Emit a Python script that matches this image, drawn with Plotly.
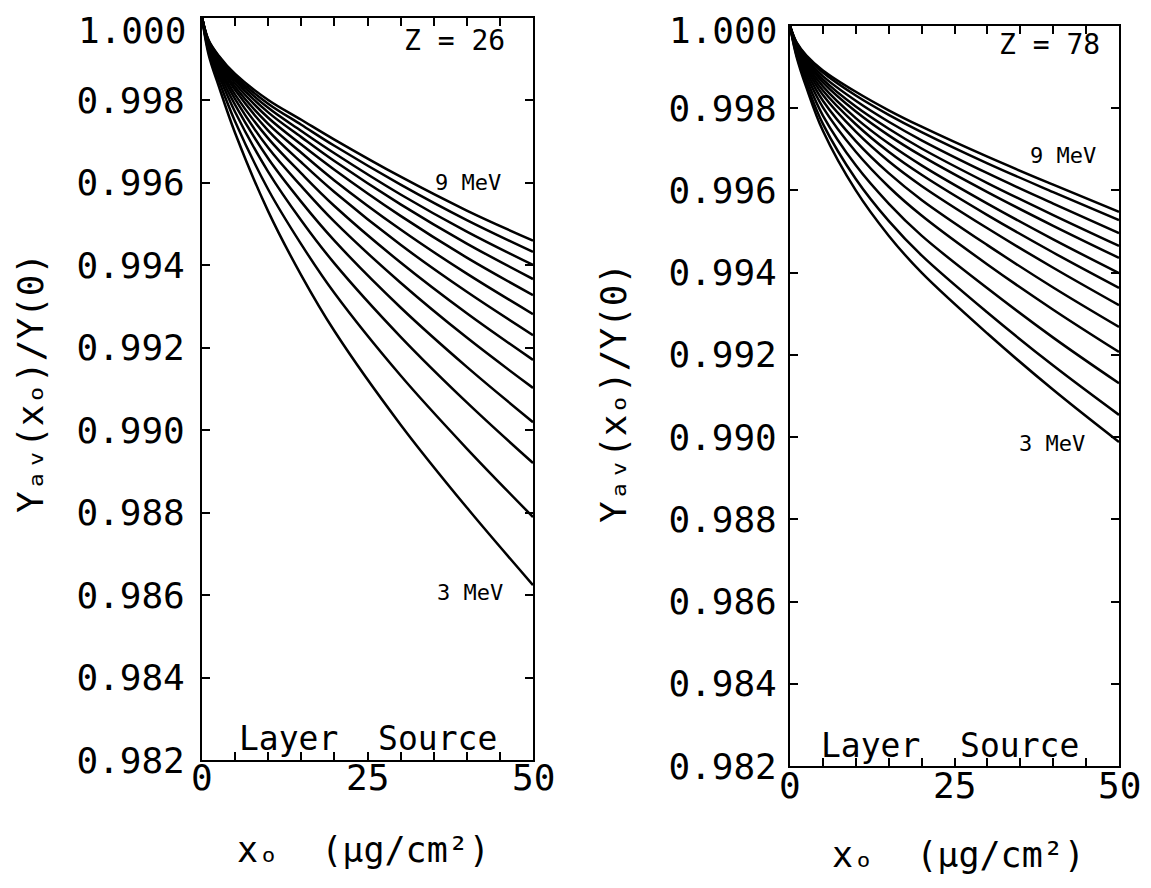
import plotly.graph_objects as go

# x positions (ug/cm^2) at which curves were read
x_vals = [0, 1, 2.5, 5, 10, 15, 20, 30, 40, 50]
energies = ["9", "8.5", "8", "7.5", "7", "6.5", "6", "5.5", "5", "4.5", "4", "3.5", "3"]

# Z = 26, values at each x (rows: energies 9 ... 3 MeV)
y_z26 = [
    [1.0, .99945, .99908, .99863, .99800, .99752, .99704, .99614, .99532, .99459],
    [1.0, .99944, .99906, .99858, .99791, .99740, .99689, .99595, .99509, .99432],
    [1.0, .99942, .99903, .99853, .99781, .99725, .99671, .99571, .99481, .99400],
    [1.0, .99941, .99900, .99847, .99770, .99710, .99652, .99547, .99452, .99366],
    [1.0, .99939, .99896, .99840, .99757, .99692, .99631, .99519, .99418, .99327],
    [1.0, .99937, .99892, .99832, .99742, .99672, .99605, .99486, .99379, .99281],
    [1.0, .99935, .99888, .99824, .99726, .99649, .99577, .99449, .99335, .99230],
    [1.0, .99933, .99883, .99813, .99707, .99622, .99543, .99406, .99283, .99170],
    [1.0, .99930, .99877, .99802, .99684, .99591, .99505, .99357, .99224, .99102],
    [1.0, .99927, .99869, .99788, .99658, .99553, .99459, .99297, .99153, .99019],
    [1.0, .99922, .99861, .99771, .99626, .99508, .99404, .99226, .99067, .98920],
    [1.0, .99917, .99849, .99748, .99583, .99450, .99332, .99132, .98955, .98789],
    [1.0, .99910, .99835, .99720, .99530, .99375, .99240, .99013, .98812, .98624],
]

# Z = 78
y_z78 = [
    [1.0, .99960, .99928, .99892, .99840, .99795, .99755, .99682, .99614, .99548],
    [1.0, .99959, .99925, .99887, .99831, .99784, .99742, .99666, .99596, .99528],
    [1.0, .99957, .99921, .99878, .99818, .99767, .99722, .99642, .99568, .99496],
    [1.0, .99955, .99916, .99870, .99804, .99750, .99702, .99618, .99540, .99465],
    [1.0, .99953, .99912, .99863, .99792, .99734, .99684, .99596, .99514, .99436],
    [1.0, .99951, .99907, .99853, .99776, .99714, .99661, .99568, .99481, .99399],
    [1.0, .99948, .99902, .99843, .99761, .99694, .99638, .99540, .99449, .99363],
    [1.0, .99946, .99896, .99832, .99743, .99671, .99611, .99508, .99412, .99321],
    [1.0, .99942, .99889, .99818, .99720, .99642, .99577, .99467, .99364, .99268],
    [1.0, .99939, .99880, .99802, .99694, .99609, .99539, .99420, .99310, .99207],
    [1.0, .99934, .99870, .99782, .99661, .99568, .99490, .99362, .99242, .99131],
    [1.0, .99929, .99859, .99762, .99628, .99526, .99442, .99303, .99174, .99054],
    [1.0, .99925, .99850, .99745, .99600, .99490, .99400, .99252, .99115, .98988],
]

y_ticks = [0.982, 0.984, 0.986, 0.988, 0.990, 0.992, 0.994, 0.996, 0.998, 1.000]
y_ticktext = ["0.982", "0.984", "0.986", "0.988", "0.990", "0.992", "0.994", "0.996", "0.998", "1.000"]
x_ticks = [0, 25, 50]
x_ticktext = ["0", "25", "50"]

FONT = "DejaVu Sans Mono"
W, H = 1151, 888
OFF = 8  # page body margin


def px(xp):
    return (xp - OFF) / W


def py(yp):
    return 1 - (yp - OFF) / H


fig = go.Figure()

for rows, xa, ya in [(y_z26, "x", "y"), (y_z78, "x2", "y2")]:
    for e, row in zip(energies, rows):
        fig.add_trace(go.Scatter(x=x_vals, y=row, mode="lines", xaxis=xa, yaxis=ya,
                                 line=dict(color="black", width=2.5, shape="spline", smoothing=1.0),
                                 name=e + " MeV", showlegend=False, hoverinfo="skip"))

# the top label (1.000) sits at the very top edge; it is drawn as an annotation below
shown_ticktext = y_ticktext[:-1] + [""]


def xaxis(domain, anchor):
    return dict(domain=domain, anchor=anchor, range=[0, 50], showline=True, linecolor="black",
                linewidth=2, mirror="allticks", ticks="inside", tickcolor="black", ticklen=8,
                tickwidth=1.5, tick0=0, dtick=5, showgrid=False, zeroline=False,
                showticklabels=False, automargin=False)


def yaxis(domain, anchor, standoff):
    return dict(domain=domain, anchor=anchor, range=[0.982, 1.000], showline=True, linecolor="black",
                linewidth=2, mirror="allticks", ticks="inside", tickcolor="black", ticklen=8,
                tickwidth=1.5, tickvals=y_ticks, ticktext=shown_ticktext, showgrid=False, zeroline=False,
                tickfont=dict(family=FONT, size=36, color="black"), ticklabelstandoff=standoff,
                automargin=False)


fig.update_layout(
    width=W, height=H, margin=dict(l=0, r=0, t=0, b=0, autoexpand=False),
    paper_bgcolor="white", plot_bgcolor="white",
    xaxis=xaxis([px(202), px(533)], "y"),
    yaxis=yaxis([py(760), py(17.5)], "x", 8),
    xaxis2=xaxis([px(790), px(1119)], "y2"),
    yaxis2=yaxis([py(766), py(26)], "x2", 4),
)

ann = []
# x tick labels
for xr, ypix in [("x", 800), ("x2", 808)]:
    for v, t in zip(x_ticks, x_ticktext):
        ann.append(dict(x=v, y=py(ypix), xref=xr, yref="paper", text=t, showarrow=False,
                        font=dict(family=FONT, size=36, color="black")))

# top y tick labels
for xpix in (187, 778):
    ann.append(dict(x=px(xpix), y=py(8.5), xref="paper", yref="paper", text=y_ticktext[-1],
                    showarrow=False, xanchor="right", yanchor="top", borderpad=0,
                    font=dict(family=FONT, size=36, color="black")))


def txt(x, y, t, size, xref="paper", yref="paper", angle=0):
    ann.append(dict(x=x, y=y, xref=xref, yref=yref, text=t, showarrow=False, textangle=angle,
                    xanchor="center", yanchor="middle",
                    font=dict(family=FONT, size=size, color="black")))


# axis titles
txt(px(363), py(850), "xₒ  (μg/cm²)", 35)
txt(px(958), py(855), "xₒ  (μg/cm²)", 35)
txt(px(30), py(383), "Yₐᵥ(xₒ)/Y(0)", 36, angle=-90)
txt(px(613), py(393), "Yₐᵥ(xₒ)/Y(0)", 36, angle=-90)

# panel labels
txt(38.2, 0.99945, "Z = 26", 28, xref="x", yref="y")
txt(39.5, 0.99954, "Z = 78", 28, xref="x2", yref="y2")
txt(40.2, 0.99599, "9 MeV", 22, xref="x", yref="y")
txt(41.5, 0.99686, "9 MeV", 22, xref="x2", yref="y2")
txt(40.5, 0.98605, "3 MeV", 22, xref="x", yref="y")
txt(39.8, 0.98985, "3 MeV", 22, xref="x2", yref="y2")
txt(25.1, 0.98253, "Layer  Source", 33, xref="x", yref="y")
txt(24.3, 0.98251, "Layer  Source", 33, xref="x2", yref="y2")

fig.update_layout(annotations=ann)
fig.write_html("out.html")
